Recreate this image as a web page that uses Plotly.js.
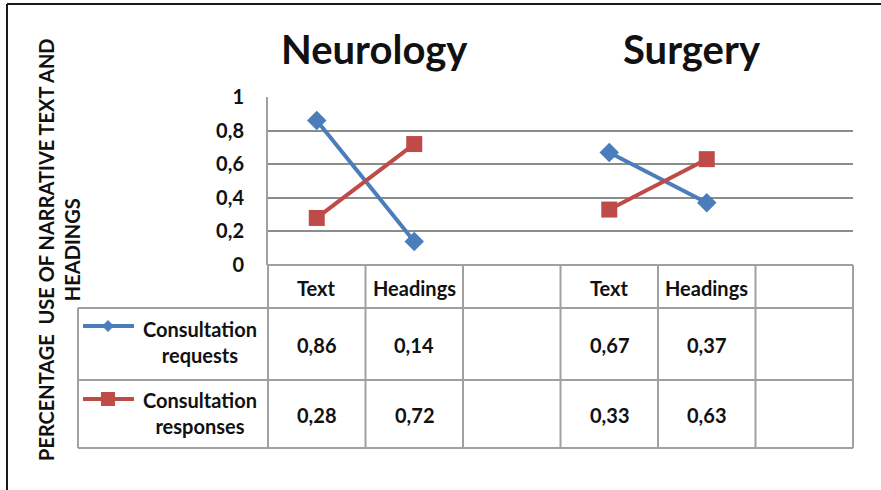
<!DOCTYPE html>
<html><head><meta charset="utf-8">
<script src="https://cdn.plot.ly/plotly-3.0.1.min.js"></script>
<style>html,body{margin:0;padding:0;background:#fff}#chart{width:881px;height:490px}</style>
</head><body><div id="chart"></div>
<script>
// ---- data ----
const categories = ["Text", "Headings", "", "Text", "Headings", ""];
const groupTitles = ["Neurology", "Surgery"];
const seriesNames = ["Consultation<br>requests", "Consultation<br>responses"];
const requests = [0.86, 0.14, null, 0.67, 0.37, null];
const responses = [0.28, 0.72, null, 0.33, 0.63, null];
const yTicks = [0, 0.2, 0.4, 0.6, 0.8, 1];
const yTitleLines = ["PERCENTAGE  USE OF NARRATIVE TEXT AND", "HEADINGS"];

// ---- geometry ----
const W = 881, H = 490, L = 268, R = 28, T = 97, B = 225;
const PW = W - L - R, PH = H - T - B;
const px2x = p => (p - L) / PW;
const py2y = p => (T + PH - p) / PH;

const blue = '#4A7EBB', red = '#BE4B48';
const gridC = '#8c8c8c', tableC = '#a0a0a0';
const FONT = 'Lato, "Open Sans", sans-serif';
const fmt = v => (v === null ? '' : v.toFixed(2).replace('.', ','));
const xIdx = categories.map((_, i) => i);

const traces = [
  {x: xIdx, y: requests, type: 'scatter', mode: 'lines+markers', name: 'Consultation requests',
   line: {color: blue, width: 4}, marker: {symbol: 'diamond', size: 15, color: blue},
   connectgaps: false, cliponaxis: false, showlegend: false, hoverinfo: 'skip'},
  {x: xIdx, y: responses, type: 'scatter', mode: 'lines+markers', name: 'Consultation responses',
   line: {color: red, width: 4}, marker: {symbol: 'square', size: 16, color: red},
   connectgaps: false, cliponaxis: false, showlegend: false, hoverinfo: 'skip'}
];

const shapes = [];
const ln = (x0, y0, x1, y1, color, width) => shapes.push({type: 'line', xref: 'paper', yref: 'paper',
  x0, y0, x1, y1, line: {color, width}});

// outer frame (top and left)
ln(px2x(7), py2y(4), px2x(W), py2y(4), '#1a1a1a', 2);
ln(px2x(7), py2y(4), px2x(7), py2y(H), '#1a1a1a', 2);

// data-table grid
const n = categories.length;
for (let k = 0; k <= n; k++) {
  const xp = k / n;
  ln(xp, 0, xp, py2y(448), tableC, 2);
}
ln(0, 0, 1, 0, tableC, 2);
[308, 380, 448].forEach(p => ln(px2x(78), py2y(p), 1, py2y(p), tableC, 2));
ln(px2x(78), py2y(308), px2x(78), py2y(448), tableC, 2);

// legend keys inside table
const keyY = [326, 399];
ln(px2x(83), py2y(keyY[0]), px2x(134), py2y(keyY[0]), blue, 4);
ln(px2x(83), py2y(keyY[1]), px2x(134), py2y(keyY[1]), red, 4);
const cx = 108, d = 6;
shapes.push({type: 'path', xref: 'paper', yref: 'paper', fillcolor: blue, line: {width: 0},
  path: `M${px2x(cx - d)},${py2y(keyY[0])} L${px2x(cx)},${py2y(keyY[0] - d)} L${px2x(cx + d)},${py2y(keyY[0])} L${px2x(cx)},${py2y(keyY[0] + d)} Z`});
shapes.push({type: 'rect', xref: 'paper', yref: 'paper', fillcolor: red, line: {width: 0},
  x0: px2x(101), x1: px2x(115), y0: py2y(keyY[1] - 7), y1: py2y(keyY[1] + 7)});

// annotations
const ann = [];
const bold = (size) => ({family: FONT, size, color: '#111', weight: 'bold'});
groupTitles.forEach((t, i) => ann.push({text: '<b>' + t + '</b>', xref: 'paper', yref: 'paper',
  x: px2x([374, 692][i]), y: py2y(49), showarrow: false, xanchor: 'center', yanchor: 'middle', font: bold(40)}));
categories.forEach((c, i) => {
  if (c) ann.push({text: '<b>' + c + '</b>', xref: 'x', yref: 'paper', x: i, y: py2y(288), showarrow: false,
    xanchor: 'center', yanchor: 'middle', font: bold(20)});
});
[requests, responses].forEach((arr, r) => {
  const yy = py2y([345, 415][r]);
  arr.forEach((v, i) => {
    if (v !== null) ann.push({text: '<b>' + fmt(v) + '</b>', xref: 'x', yref: 'paper', x: i, y: yy, showarrow: false,
      xanchor: 'center', yanchor: 'middle', font: bold(20)});
  });
  ann.push({text: '<b>' + seriesNames[r].replace('<br>', '</b><br><b>') + '</b>', xref: 'paper', yref: 'paper',
    x: px2x(200), y: py2y([342, 413][r]),
    showarrow: false, xanchor: 'center', yanchor: 'middle', align: 'center', font: bold(20)});
});
ann.push({text: yTitleLines.map(s => '<b>' + s + '</b>').join('<br>'), xref: 'paper', yref: 'paper',
  x: px2x(59), y: py2y(250),
  showarrow: false, textangle: -90, xanchor: 'center', yanchor: 'middle', align: 'center', font: bold(20)});

const layout = {
  width: W, height: H, margin: {l: L, r: R, t: T, b: B, pad: 0},
  paper_bgcolor: '#fff', plot_bgcolor: '#fff', separators: ',.',
  font: {family: FONT, color: '#111'},
  xaxis: {range: [-0.5, n - 0.5], showticklabels: false, showgrid: false, zeroline: false,
          showline: false, ticks: '', fixedrange: true},
  yaxis: {range: [0, 1], tickvals: yTicks, showgrid: true, gridcolor: gridC, gridwidth: 2,
          zeroline: false, showline: true, linecolor: tableC, linewidth: 2, ticks: '',
          ticklabelstandoff: 18, tickfont: bold(20), fixedrange: true},
  shapes, annotations: ann
};

Plotly.newPlot('chart', traces, layout, {staticPlot: true, displayModeBar: false});
</script></body></html>
